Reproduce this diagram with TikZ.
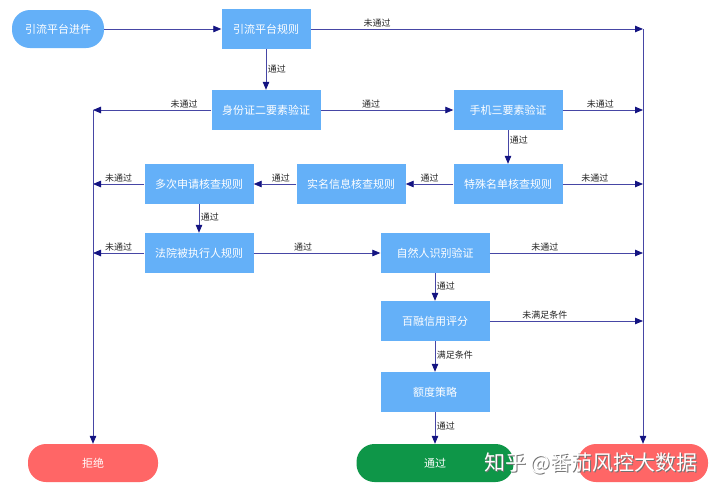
\documentclass[tikz,border=0pt]{standalone}
\usepackage{fontspec}
\setmainfont{Noto Sans CJK SC}
\usetikzlibrary{arrows.meta}
\definecolor{boxblue}{RGB}{100,176,248}
\definecolor{rejred}{RGB}{255,102,102}
\definecolor{passgreen}{RGB}{14,150,72}
\definecolor{linecol}{RGB}{70,70,165}
\definecolor{tipcol}{RGB}{20,20,130}
\begin{document}
\begin{tikzpicture}[x=1pt,y=-1pt,
  box/.style={rectangle, fill=boxblue, text=white, minimum width=109pt, minimum height=40pt, inner sep=0pt, font=\fontsize{11}{13}\selectfont},
  pill/.style={rectangle, rounded corners=18pt, text=white, minimum height=38pt, inner sep=0pt, font=\fontsize{11}{13}\selectfont},
  conn/.style={draw=linecol, line width=0.8pt, -{Triangle[length=8pt,width=6.5pt,color=tipcol]}},
  lab/.style={font=\fontsize{9}{10}\selectfont, text=black!85, inner sep=1.5pt}]
\useasboundingbox (0,0) rectangle (720,501);
\fill[white] (0,0) rectangle (720,501);
% nodes
\node[pill, fill=boxblue, minimum width=92pt] (start) at (58,29) {引流平台进件};
\node[box, minimum width=89pt] (r1) at (266,29) {引流平台规则};
\node[box] (id) at (266,110) {身份证二要素验证};
\node[box] (phone) at (508,110) {手机三要素验证};
\node[box] (special) at (508,184) {特殊名单核查规则};
\node[box] (real) at (351,184) {实名信息核查规则};
\node[box] (multi) at (199,184) {多次申请核查规则};
\node[box] (court) at (199,253) {法院被执行人规则};
\node[box] (natural) at (435,253) {自然人识别验证};
\node[box] (bairong) at (435,321) {百融信用评分};
\node[box] (quota) at (435,392) {额度策略};
\node[pill, fill=rejred, minimum width=130pt] (reject) at (93,463) {拒绝};
\node[pill, fill=passgreen, minimum width=157pt] (pass) at (435,463) {通过};
\node[pill, fill=rejred, minimum width=130pt] (reject2) at (643,463) {};
% junction coordinates
\coordinate (R1) at (643,29);
\coordinate (R2) at (643,110);
\coordinate (R3) at (643,184);
\coordinate (R4) at (643,253);
\coordinate (R5) at (643,321);
\coordinate (L1) at (93,110);
\coordinate (L2) at (93,184);
\coordinate (L3) at (93,253);
% connectors
\draw[conn] (start) -- (r1);
\draw[conn] (r1) -- node[lab, above, pos=0.2] {未通过} (R1);
\draw[conn] (r1) -- node[lab, right] {通过} (id);
\draw[conn] (id) -- node[lab, above, pos=0.23] {未通过} (L1);
\draw[conn] (id) -- node[lab, above, pos=0.38] {通过} (phone);
\draw[conn] (phone) -- node[lab, above, pos=0.47] {未通过} (R2);
\draw[conn] (phone) -- node[lab, right, pos=0.3] {通过} (special);
\draw[conn] (special) -- node[lab, above] {通过} (real);
\draw[conn] (special) -- node[lab, above, pos=0.4] {未通过} (R3);
\draw[conn] (real) -- node[lab, above, pos=0.36] {通过} (multi);
\draw[conn] (multi) -- node[lab, above] {未通过} (L2);
\draw[conn] (multi) -- node[lab, right, pos=0.45] {通过} (court);
\draw[conn] (court) -- node[lab, above] {未通过} (L3);
\draw[conn] (court) -- node[lab, above, pos=0.39] {通过} (natural);
\draw[conn] (natural) -- node[lab, above, pos=0.36] {未通过} (R4);
\draw[conn] (natural) -- node[lab, right, pos=0.45] {通过} (bairong);
\draw[conn] (bairong) -- node[lab, above, pos=0.36] {未满足条件} (R5);
\draw[conn] (bairong) -- node[lab, right, pos=0.45] {满足条件} (quota);
\draw[conn] (quota) -- node[lab, right, pos=0.45] {通过} (pass);
\draw[conn] (L1) -- (reject);
\draw[conn] (R1) -- (reject2);
% watermark
\node[font=\fontsize{21}{24}\selectfont, text=black!55] (wmshadow) at (592,464.5) {知乎 @番茄风控大数据};
\node[font=\fontsize{21}{24}\selectfont, text=white] (wm) at (591,463) {知乎 @番茄风控大数据};
\end{tikzpicture}
\end{document}
